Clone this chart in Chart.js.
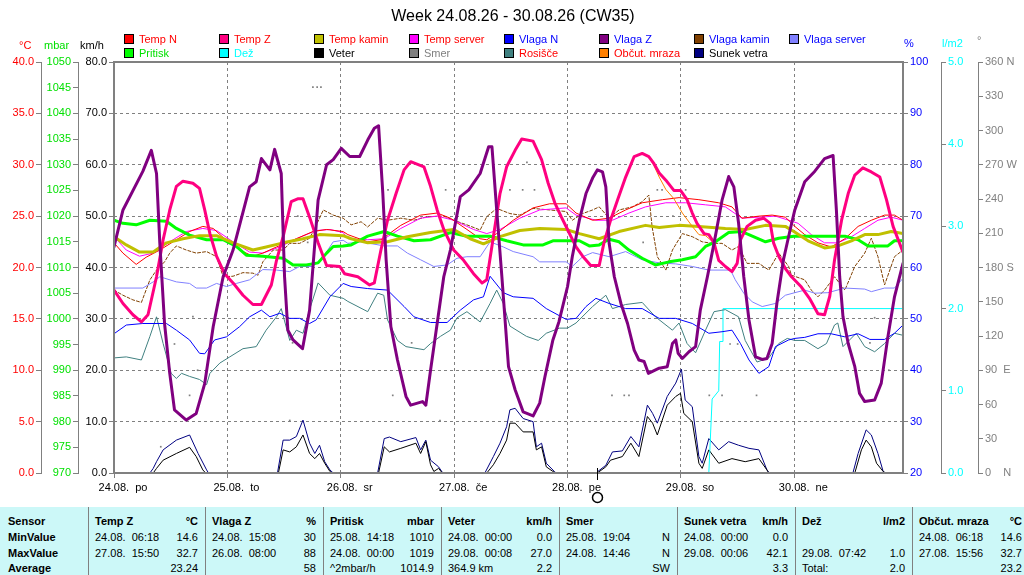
<!DOCTYPE html>
<html>
<head>
<meta charset="utf-8">
<script src="https://cdn.jsdelivr.net/npm/chart.js@4.4.1/dist/chart.umd.min.js"></script>
<style>
  html,body{margin:0;padding:0;background:#fff;}
  body{width:1024px;height:575px;position:relative;overflow:hidden;font-family:"Liberation Sans",Arial,sans-serif;}
  #c{position:absolute;left:0;top:0;}
  #title{position:absolute;left:0;top:8px;width:1026px;text-align:center;font-size:16px;line-height:16px;color:#000;}
  .lg{position:absolute;font-size:11px;line-height:14px;white-space:pre;}
  .lg i{position:absolute;left:0;top:2px;width:8px;height:8px;border:1px solid #000;}
  .lg span{position:absolute;left:15px;top:0;}
  .unit{position:absolute;font-size:11px;line-height:14px;white-space:pre;}
  #tbl{position:absolute;left:0;top:507px;width:1024px;height:68px;background:#CCF8F8;}
  .sep{position:absolute;top:0;width:1px;height:68px;background:#808080;}
  .cell{position:absolute;font-size:11px;line-height:15px;height:15px;white-space:pre;display:flex;justify-content:space-between;}
  .b{font-weight:bold;}
</style>
</head>
<body>
<canvas id="c" width="1024" height="505" style="width:1024px;height:505px"></canvas>
<div id="title">Week 24.08.26 - 30.08.26 (CW35)</div>
<div id="legend"></div>
<div id="units"></div>
<div id="tbl"></div>
<script>
// ---------------- DATA (hour since 24.08. 00:00, value) ----------------
const dayLabels = ['24.08.  po','25.08.  to','26.08.  sr','27.08.  če','28.08.  pe','29.08.  so','30.08.  ne'];
const moonHour = 102.2;

const tempN = [[0,22.4],[1.9,21.4],[4.7,20.3],[6.8,21],[9.7,21.7],[13.2,22.7],[16,23.5],[18.8,24],[21,23.8],[23.4,22.8],[26.6,21.7],[29.4,21.1],[31.5,21.4],[34.4,22],[38.6,22.8],[42.1,23.5],[45,23.7],[48.5,23.5],[49.5,23.2],[53.7,22.5],[56.5,22.7],[60.7,24.1],[64.9,25.1],[68.4,25.3],[71.2,24.8],[74.7,23.7],[77.5,22.8],[78.9,22.7],[81,23.3],[84.5,24.6],[88.7,25.8],[92.2,26.2],[95.7,26.2],[97.8,25.3],[101.3,24.6],[104.8,24.8],[108.3,25.6],[111.8,26.3],[116.1,26.6],[119.6,26.8],[123.8,26.6],[128,26.3],[130.8,25.9],[132.9,24.8],[136.5,25],[139.3,25.1],[142.1,24.9],[144.1,24],[146.2,23.2],[149,22.4],[151.8,22],[154.7,22.8],[157.5,24],[160.3,24.6],[163.1,25.1],[165.2,25.1],[167,24.6]];

const tempZ = [[0,17.8],[1.9,16.5],[4,15.4],[5.8,14.7],[7.2,15.4],[9,19.1],[10.4,22.7],[11.8,25.6],[13.2,27.9],[14.6,28.4],[16.7,28.2],[18.1,27.7],[19.2,25.6],[20.3,23.3],[21.7,21.1],[23.4,19.4],[25.2,18.5],[27.3,17.3],[29.4,16.4],[31.2,16.4],[33.3,18.3],[34.4,20.7],[35.8,23],[37.5,26.4],[39,26.7],[40,26.7],[41.4,24.9],[43.2,22.4],[45,20.2],[47.8,20.1],[48.8,19.4],[51.6,19.1],[54.1,18.3],[55.1,18.5],[56.5,21.7],[57.9,24.6],[59.7,27.2],[61.4,29.5],[62.8,30.3],[65.6,29.8],[67,27.9],[68.4,25.6],[69.8,23.7],[71.9,21.7],[74,20.7],[76.1,19.4],[77.9,18.5],[78.9,18.8],[80.3,23],[81.7,27.2],[83.1,29.8],[84.9,31.4],[86.3,32.5],[88.7,32.3],[90.5,30.5],[91.9,28.2],[93.3,26.3],[94.7,24.9],[96.1,23.6],[97.8,22],[99.2,21.1],[100.9,20.2],[102.7,20.2],[103.7,22.4],[105.1,24.6],[106.6,26.6],[108.3,28.8],[110.1,30.8],[111.8,31.1],[113.2,30.8],[114.3,30.1],[115.4,29.2],[116.8,28.5],[118.5,27.5],[119.9,27.5],[121.3,26.6],[122.4,25.3],[123.4,24.3],[124.9,23.3],[125.9,23.2],[127,22.4],[128,20.7],[129.4,20.1],[130.8,19.6],[131.9,20.4],[132.6,22.7],[134,24],[135.8,24.6],[137.5,24.8],[138.9,24.3],[139.6,22.4],[140.7,21.1],[142.1,19.9],[143.4,19.1],[145.5,18.1],[147.2,17],[149,15.5],[150.4,15.4],[151.5,17.2],[152.5,20.7],[154,24.6],[155.4,27.2],[156.8,29],[158.5,29.7],[160.3,29.3],[162.1,28.8],[163.5,26.6],[164.9,24],[167,21.5]];

const tempKamin = [[0,23],[2.6,22.2],[5.4,21.5],[8.3,21.5],[11.1,22.4],[14.6,22.8],[18.1,23.1],[21.7,23.1],[25.2,22.4],[29.4,21.7],[32.2,22],[35.8,22.4],[40,22.8],[43.5,23.2],[48.5,23.1],[50.2,22.8],[53.7,22.4],[57.9,22.5],[62.1,23],[67,23.4],[71.9,23.7],[75.4,22.8],[78.2,22.3],[81.7,23],[85.9,23.6],[90.1,23.8],[95.7,23.7],[98.5,23.3],[102.7,22.8],[106.9,23.5],[112.5,24.1],[115.4,23.9],[119.6,24.1],[123.8,24],[129.4,23.8],[133.6,23.7],[137.9,24.1],[142.1,24],[143.9,23.5],[146.9,22.6],[150.4,21.9],[153.2,22.1],[156.1,22.6],[158.9,23.2],[161.7,23.2],[164.5,23.5],[167,23.3]];

const tempServer = [[0,23],[2.6,21.7],[5.4,21.1],[8.3,21.4],[11.8,22.5],[15.3,23.5],[18.8,23.8],[21.7,23.6],[25.2,22.5],[28.7,21.5],[31.5,21.4],[35.1,22],[38.6,22.8],[42.8,23.6],[45.7,23.7],[48.5,23.4],[49.5,22.8],[53.7,22.7],[57.2,22.8],[60.7,23.8],[64.9,24.8],[68.4,25],[71.9,24.6],[76.1,23.7],[78.9,23.3],[81.7,23.7],[85.9,24.8],[90.1,25.6],[95.7,25.8],[97.8,25.1],[102,24.6],[105.5,24.6],[109,25.3],[112.5,25.9],[116.8,26.3],[121,26.3],[125.2,26.1],[129.4,25.9],[132.9,24.8],[136.5,24.9],[140,25],[143.5,24.5],[144.8,24.3],[147.6,23.2],[150.4,22.4],[153.2,22.4],[156.1,23],[158.9,23.8],[161.7,24.6],[164.5,24.9],[167,24.6]];

const vlagaN = [[0,47.1],[2.6,48.8],[6.1,49.1],[11.1,49.1],[13.2,47.8],[16,45.9],[18.1,43.3],[19.2,43.2],[21.3,45.9],[23.8,46.5],[26.6,48.5],[28.7,50.4],[31.2,51.7],[33,50.4],[35.1,51.1],[37.2,50.1],[39.3,50.1],[41.4,49.1],[42.8,49.8],[45.7,54.3],[48.5,56.9],[50.2,56.3],[53.7,55.9],[57.9,55.6],[61.4,52.4],[63.5,50.4],[67,49.3],[70.5,49.3],[73.3,51.7],[76.1,53.7],[78.2,54.3],[79.6,58.3],[82.4,55.1],[84.5,54.3],[88.7,54],[91.5,52],[95.7,49.9],[97.8,50.1],[99.9,52.4],[102,54],[104.8,53],[108.3,52],[111.8,52],[115.4,50.1],[118.9,50.1],[122.4,49.1],[125.9,47.2],[128.7,47.5],[130.8,47.8],[132.6,45.2],[134.4,42],[136.5,39.4],[138.6,40.7],[140,44.6],[142.8,45.9],[144.1,46.2],[146.2,46.4],[149,47.1],[151.8,47.1],[154.7,46.5],[157.5,47.1],[160,46],[163.1,46],[165.2,47.2],[167,48.8]];

const vlagaZ = [[0,64],[1.9,71.2],[6.1,78.7],[7.9,82.8],[9,78.3],[9.7,64.7],[10.7,49.1],[11.8,39.4],[12.8,32.3],[15.3,30.3],[17.4,31.6],[19.2,37.4],[21,48.5],[23.1,58.2],[25.2,63.4],[28.7,75.7],[30.1,76.7],[31.2,81.2],[33,79],[34,83],[35.4,78.3],[36.1,58.2],[36.8,47.8],[37.9,45.9],[39.9,44.2],[41.4,51.7],[42.5,64.7],[43.2,73.1],[45,80],[46.4,81],[48.1,83.2],[49.9,81.6],[52,81.6],[53.7,84.8],[55.1,87.1],[56,87.6],[56.9,74.4],[57.6,61.5],[58.6,48.5],[60,42],[61.8,34.9],[62.8,33.2],[65.3,33.9],[66,33.2],[67,40],[68.4,49.1],[69.8,58.2],[71.2,63.4],[73.3,73.8],[75.1,75.1],[77.5,78.3],[79.3,83.5],[80,83.5],[81,71.2],[82.1,58.2],[83.5,40.7],[84.9,36.2],[86.6,31.9],[88.7,31.1],[90.1,33.6],[91.2,38.7],[92.9,45.9],[94.2,49.5],[96,56.3],[97,62.1],[98.5,69.2],[99.9,74.4],[101.3,77.4],[102.3,79],[103.4,78.6],[104.1,75.7],[104.8,64.7],[105.9,58.2],[107.3,53],[108.7,49.1],[110.1,43.9],[111.1,42],[112.2,41.7],[113.1,39.4],[115.4,40.4],[117.1,40.7],[118.2,45.2],[118.9,45.9],[119.4,43.3],[120.3,42.3],[121.7,43.6],[123.1,44.6],[124.1,51.7],[125.6,58.2],[127,64.7],[128.7,73.1],[130.1,77.7],[131.2,75.7],[132.2,68.6],[133.3,58.2],[134.4,49.8],[135.8,42.6],[137.2,42.1],[138.2,42.3],[139.3,45.2],[140.3,53],[141.7,61.5],[143.1,67.3],[144.1,71.2],[146.2,76.7],[148.3,78.7],[150.4,81.2],[152.2,81.8],[152.9,71.2],[153.6,58.2],[154.3,50.4],[155.4,45.2],[156.8,40.7],[157.8,35.5],[158.9,33.9],[161,34.2],[162.4,37.5],[163.8,46.5],[165.2,54.3],[167,60.8]];

const vlagaKamin = [[0,55.6],[1.9,54.6],[4,53.7],[5.8,53.2],[7.6,57.6],[9,59.5],[10.7,61.1],[11.8,62.8],[13.2,64.2],[15.3,63.4],[17.4,62.8],[19.6,63.1],[21.7,62.1],[23.1,58.2],[25.2,58.3],[27.3,59],[29.4,58.9],[30.5,58.5],[31.5,61.1],[33.7,63.4],[35.8,63.4],[37.2,64.7],[39.3,64.7],[41.4,65.7],[42.5,67.6],[44.3,71.2],[46.4,70.2],[48.5,69.6],[50.2,68.3],[52.3,68.9],[53.7,67.9],[55.8,69.6],[57.9,69.2],[60.7,69.6],[63.5,69.2],[66.3,69.9],[69.8,70],[71.9,69.2],[74.7,68.3],[77.5,67.3],[78.9,69.9],[81,71.5],[83.8,70.5],[85.9,70.2],[88.7,71.5],[92.2,71.2],[95.7,70.9],[97,69.2],[99.2,70.5],[101.3,71.2],[102.7,71.8],[104.8,69.6],[106.9,71.2],[109.7,71.8],[111.8,72.8],[113.2,74.1],[113.9,67.9],[115,62.1],[116.8,59.5],[118.2,63.4],[120.3,66.6],[122.4,66],[124.5,65],[126.6,64.7],[128.7,64.7],[130.8,63.4],[132.2,64.1],[134,60.8],[136.5,60.8],[138.6,59.5],[140.7,62.8],[142.8,60.2],[143.4,58.5],[146.2,57.6],[147.6,55.6],[149,54.3],[150.4,55.6],[152.5,58.2],[154.7,55.6],[156.8,60.2],[158.9,62.8],[160.3,65.7],[161.7,62.1],[163.1,56.6],[165.2,62.1],[167,63.4]];

const vlagaServer = [[0,56],[6.1,56],[8.3,57.2],[9.7,58.2],[13.2,57.2],[16,56.9],[17.4,56],[19.6,56],[21.7,56.9],[23.8,56.3],[25.9,56.9],[28.7,57.6],[31.5,59.6],[34.4,59.5],[37.2,59.2],[39.3,60.2],[42.1,60.2],[44.3,62.1],[46.4,65],[48.5,65.3],[49.5,64.7],[52.3,65],[57.2,64.2],[60,64.2],[62.1,62.8],[64.9,61.5],[67.7,60.2],[70.5,60.5],[72.6,61.8],[74.7,62.1],[77.5,62.1],[79.6,65],[82.4,64],[84.5,63.1],[88.7,62.1],[90.1,61.1],[95.7,61.1],[97,60.2],[99.2,62.1],[101.3,62.9],[104.8,62.1],[108.3,63.1],[111.8,61.5],[115.4,60.9],[118.9,60.7],[122.4,60.2],[125.9,59.5],[130.5,59.5],[131.5,57.6],[133.3,55],[135.1,53.3],[137.2,52.4],[140,53],[142.1,54.6],[144.1,55.1],[146.2,55.6],[148.3,55],[151.1,55.1],[154.7,56],[158.9,55.8],[160.3,55.3],[163.1,56],[165.2,56],[167,57.9]];

const pritisk = [[0,1019.2],[1.9,1018.6],[4.7,1018.3],[7.6,1019.2],[11.1,1019],[13.2,1017.6],[16,1016.3],[19.6,1015.4],[23.1,1015.4],[25.9,1014.1],[28,1012.4],[31.5,1012.2],[35.8,1011.8],[37.9,1010.5],[40.7,1010.5],[43.2,1010.9],[45,1012.8],[46.4,1014.1],[48.5,1014.2],[50.2,1014.4],[53.7,1016.1],[57.2,1017],[60,1016.1],[63.5,1015.2],[67,1015.4],[71.2,1016.8],[74.7,1016.1],[79.6,1016.1],[83.1,1015.2],[86.6,1014.4],[90.8,1014.4],[92.9,1015.2],[98.5,1015.2],[100.6,1014.2],[102.7,1014.4],[104.8,1015.5],[106.9,1015],[109,1013.4],[111.8,1011.8],[114.6,1010.5],[117.5,1011.1],[120.3,1011.5],[123.1,1012.1],[125.2,1014.1],[127.3,1015],[130.1,1016.8],[132.9,1017],[135.1,1016.1],[137.9,1015],[140.7,1015.7],[143.9,1016.1],[154.7,1016.1],[157.5,1015.4],[159.6,1014.2],[163.8,1014.2],[165.2,1015.2],[167,1015.2]];

const dez = [[0,0],[125.9,0],[126.6,0.9],[128,1.0],[128.2,1.6],[128.7,1.6],[128.9,2.0],[167,2.0]];

const veter = [[0,0],[8.3,0],[9,0.9],[10.4,2.5],[13.2,3.8],[16,5],[17.4,3.2],[18.8,0.6],[19.4,0],[34.8,0],[35.8,4.5],[37.2,4.1],[38.6,5.1],[40,7.4],[41.4,3.8],[42.5,2.8],[43.5,3.8],[44.6,1.9],[45.7,0.3],[46.2,0],[56,0],[57.2,5.1],[58.3,4.1],[60.7,4.8],[63.9,5.8],[64.9,3.8],[66,6.1],[67,1.6],[67.7,0.3],[68.7,0.9],[69.5,0],[78.9,0],[80.3,1.6],[81.7,3.8],[83.1,6.4],[83.8,9.7],[84.9,9.7],[86.6,8],[88.7,8],[89.4,4.5],[90.5,5.1],[91.5,1.2],[92.9,0.3],[93.5,0],[102.3,0],[104.1,1.2],[105.1,2.5],[107.6,3.2],[109.4,5.8],[111.1,3.2],[112.9,11],[114,9.7],[115,7.4],[117.1,13.2],[118.9,14.9],[119.9,15.5],[120.6,11.6],[122.4,10],[123.8,1.9],[124.5,0.9],[125.9,4.5],[128,1.9],[130.8,2.8],[133.6,2.2],[136.5,2.8],[138.2,0.6],[138.6,0],[156.8,0],[158.2,4.5],[159.2,6.4],[160.3,5.1],[161.4,1.9],[162.8,0.3],[163.3,0],[167,0]];

const sunek = [[0,0],[7.6,0],[8.3,0.9],[9,2.2],[10.4,4.5],[13.2,6.4],[16,7.4],[17.8,3.8],[19.6,0.6],[20,0],[34.6,0],[35.8,6.4],[37.2,6.4],[38.6,7.1],[40,10.3],[41.4,5.8],[42.5,3.8],[43.5,5.4],[44.6,2.2],[45.7,0.6],[46.4,0],[55.8,0],[57.2,6.7],[58.3,7],[60.7,6.1],[63.9,6.9],[64.9,4.5],[66,6.4],[67,2.5],[68.7,1.2],[69.6,0],[78.5,0],[80.3,3.2],[81.7,5.8],[83.1,9],[83.8,12.3],[84.9,12.6],[86.6,10.6],[88.7,10],[89.4,5.1],[90.5,5.8],[91.5,1.9],[93.2,0.3],[93.6,0],[102,0],[104.1,1.5],[105.5,4.1],[107.6,4.3],[109.4,7.1],[111.1,5.1],[112.9,13.2],[114,11.6],[115,9.7],[117.1,14.9],[118.9,17.5],[120.1,20.2],[120.9,14.2],[122.4,12.9],[123.8,3.2],[124.5,1.9],[125.9,6.7],[128,4.5],[130.1,6.1],[132.2,5.4],[134.4,4.8],[136.5,4.5],[138.2,0.6],[138.7,0],[156.4,0],[157.5,3.8],[159.2,8.4],[160.3,7.4],[161.7,3.8],[162.8,0.3],[163.3,0],[167,0]];

const smer = [[9.9,23],[12.8,113],[16,68],[16.7,137],[17.7,90],[37.2,46],[37.8,114],[38.9,225],[41,202],[42.1,338],[43,338],[43.8,338],[58,248],[59,68],[63,114],[65.2,180],[69,46],[70.2,248],[83.8,248],[86.5,248],[89,248],[87.4,272],[91.5,201],[105.4,68],[108,68],[109,68],[112,202],[115,248],[116,248],[118.3,225],[121,248],[126,68],[128.7,68],[130.4,113],[132,113],[136,68],[160,114],[161,136],[164,90]];

const rosisce = [[0,11.2],[2.6,11.3],[5.8,11],[7.6,13.3],[9,15.2],[10.4,12.6],[12.1,9.7],[13.2,9.2],[14.3,9.7],[16,9.4],[18.1,9.1],[19.6,8.6],[20.3,9.7],[22.4,10.7],[24.5,11.3],[27.3,12.1],[30.1,12.3],[32.2,13.9],[34.4,15.2],[35.4,16],[37.2,12.9],[38.6,13.9],[40,13.6],[41.4,15.9],[43.2,18.5],[45.7,17.3],[48.5,17],[49.5,16.7],[53.7,15.7],[55.8,17.5],[57.1,17.3],[57.9,14.9],[60,12.9],[61.8,12.3],[65.6,12],[67,12.6],[69.1,13.3],[71.2,13.9],[72.6,15.1],[74.7,15.7],[77.5,14.7],[79.6,16.5],[81,17.8],[82.4,16.5],[83.8,14.3],[87.3,13.3],[89.8,12.9],[91.5,13.6],[94.3,14.1],[96,14.1],[97.8,14.6],[101.3,16.2],[104.1,17.3],[105.5,16],[108.3,16.4],[111.8,16.6],[114.6,15.2],[118.2,13.9],[119.6,14.6],[121.3,12.6],[123.1,11.7],[125.2,13.9],[127,15.7],[129.4,15.9],[132.2,15.2],[133.6,12.9],[136.1,10.8],[138.6,11.2],[140.7,12.6],[142.5,13.1],[144.1,12.9],[146.2,12.9],[149,12.1],[150.8,12.6],[152.5,14.4],[153.2,14.6],[154.3,12.3],[157.1,13.6],[158.9,12.3],[161,11.8],[163.1,12.6],[165.2,13.6],[167,13.4]];

const obcutMraza = [[0,17.8],[1.9,16.5],[4,15.4],[5.8,14.7],[7.2,15.4],[9,19.1],[10.4,22.7],[11.8,25.6],[13.2,27.9],[14.6,28.4],[16.7,28.2],[18.1,27.7],[19.2,25.6],[20.3,23.3],[21.7,21.1],[23.4,19.4],[25.2,18.5],[27.3,17.3],[29.4,16.4],[31.2,16.4],[33.3,18.3],[34.4,20.7],[35.8,23],[37.5,26.4],[39,26.7],[40,26.7],[41.4,24.9],[43.2,22.4],[45,20.2],[47.8,20.1],[48.8,19.4],[51.6,19.1],[54.1,18.3],[55.1,18.5],[56.5,21.7],[57.9,24.6],[59.7,27.2],[61.4,29.5],[62.8,30.3],[65.6,29.8],[67,27.9],[68.4,25.6],[69.8,23.7],[71.9,21.7],[74,20.7],[76.1,19.4],[77.9,18.5],[78.9,18.8],[80.3,23],[81.7,27.2],[83.1,29.8],[84.9,31.4],[86.3,32.5],[88.7,32.3],[90.5,30.5],[91.9,28.2],[93.3,26.3],[94.7,24.9],[96.1,23.6],[97.8,22],[99.2,21.1],[100.9,20.2],[102.7,20.2],[103.7,22.4],[105.1,24.6],[106.6,26.6],[108.3,28.8],[110.1,30.8],[111.8,31.1],[113.2,30.8],[114.3,29.9],[115.4,28.8],[116.8,27.6],[118.5,26.7],[120.3,25.3],[122.4,24],[123.8,23.2],[125.2,23.1],[127,22.4],[128,20.7],[129.4,20.1],[130.8,19.6],[131.9,20.4],[132.6,22.7],[134,24],[135.8,24.6],[137.5,24.8],[138.9,24.3],[139.6,22.4],[140.7,21.1],[142.1,19.9],[143.4,19.1],[145.5,18.1],[147.2,17],[149,15.5],[150.4,15.4],[151.5,17.2],[152.5,20.7],[154,24.6],[155.4,27.2],[156.8,29],[158.5,29.7],[160.3,29.3],[162.1,28.8],[163.5,26.6],[164.9,24],[167,21.5]];

// Statistics table
const tblSensors = ['Temp Z','Vlaga Z','Pritisk','Veter','Smer','Sunek vetra','Dež','Občut. mraza'];
const tblUnits   = ['°C','%','mbar','km/h','','km/h','l/m2','°C'];
const tblMin = [['24.08.  06:18','14.6'],['24.08.  15:08','30'],['25.08.  14:18','1010'],['24.08.  00:00','0.0'],['25.08.  19:04','N'],['24.08.  00:00','0.0'],['',''],['24.08.  06:18','14.6']];
const tblMax = [['27.08.  15:50','32.7'],['26.08.  08:00','88'],['24.08.  00:00','1019'],['29.08.  00:08','27.0'],['24.08.  14:46','N'],['29.08.  00:06','42.1'],['29.08.  07:42','1.0'],['27.08.  15:56','32.7']];
const tblAvg = [['','23.24'],['','58'],['^2mbar/h','1014.9'],['364.9 km','2.2'],['','SW'],['','3.3'],['Total:','2.0'],['','23.2']];
const rowLabels = ['Sensor','MinValue','MaxValue','Average'];

// ---------------- SERIES DEFINITIONS ----------------
const series = [
  {label:'Temp N',       data:tempN,       color:'#FF0000', text:'#FF0000', axis:'yT', w:1, order:6},
  {label:'Temp Z',       data:tempZ,       color:'#FF0080', text:'#FF0000', axis:'yT', w:3, order:2},
  {label:'Temp kamin',   data:tempKamin,   color:'#C0C000', text:'#FF0000', axis:'yT', w:3, order:4},
  {label:'Temp server',  data:tempServer,  color:'#FF00FF', text:'#FF0000', axis:'yT', w:1, order:7},
  {label:'Vlaga N',      data:vlagaN,      color:'#0000FF', text:'#0000FF', axis:'yH', w:1, order:8},
  {label:'Vlaga Z',      data:vlagaZ,      color:'#800080', text:'#0000FF', axis:'yH', w:3, order:1},
  {label:'Vlaga kamin',  data:vlagaKamin,  color:'#804000', text:'#0000FF', axis:'yH', w:1, order:10, dash:[3,2]},
  {label:'Vlaga server', data:vlagaServer, color:'#8080FF', text:'#0000FF', axis:'yH', w:1, order:9},
  {label:'Pritisk',      data:pritisk,     color:'#00FF00', text:'#00E000', axis:'yP', w:3, order:5},
  {label:'Dež',          data:dez,         color:'#00FFFF', text:'#00FFFF', axis:'yR', w:1, order:12},
  {label:'Veter',        data:veter,       color:'#000000', text:'#000000', axis:'yW', w:1, order:13},
  {label:'Smer',         data:smer,        color:'#808080', text:'#808080', axis:'yD', w:0, order:15, dots:true},
  {label:'Rosišče',      data:rosisce,     color:'#408080', text:'#FF0000', axis:'yT', w:1, order:11},
  {label:'Občut. mraza', data:obcutMraza,  color:'#FF8000', text:'#FF0000', axis:'yT', w:1, order:3},
  {label:'Sunek vetra',  data:sunek,       color:'#000080', text:'#000000', axis:'yW', w:1, order:14}
];

const datasets = series.map(s => ({
  label: s.label,
  data: s.data.map(p => ({x:p[0], y:p[1]})),
  borderColor: s.color,
  backgroundColor: s.color,
  borderWidth: s.w,
  borderDash: s.dash || [],
  borderJoinStyle: 'round',
  borderCapStyle: 'round',
  showLine: !s.dots,
  pointRadius: s.dots ? 1.2 : 0,
  pointStyle: 'rect',
  pointBorderWidth: 0,
  pointBackgroundColor: s.color,
  tension: 0,
  fill: false,
  yAxisID: s.axis,
  order: s.order
}));

// ---------------- LEGEND / UNITS (HTML) ----------------
const legendEl = document.getElementById('legend');
series.forEach((s, i) => {
  const row = i < 8 ? 0 : 1;
  const col = i < 8 ? i : i - 8;
  const d = document.createElement('div');
  d.className = 'lg';
  d.style.left = (124 + 95 * col) + 'px';
  d.style.top = (32 + 14 * row) + 'px';
  d.innerHTML = '<i style="background:' + s.color + '"></i><span style="color:' + s.text + '">' + s.label + '</span>';
  legendEl.appendChild(d);
});
const units = [
  {t:'°C',   c:'#FF0000', x:19,  y:38},
  {t:'mbar', c:'#00E000', x:44,  y:38},
  {t:'km/h', c:'#000000', x:80,  y:38},
  {t:'%',    c:'#0000FF', x:904, y:36},
  {t:'l/m2', c:'#00FFFF', x:942, y:36},
  {t:'°',    c:'#808080', x:977, y:33}
];
const unitsEl = document.getElementById('units');
units.forEach(u => {
  const d = document.createElement('div');
  d.className = 'unit';
  d.style.left = u.x + 'px'; d.style.top = u.y + 'px'; d.style.color = u.c;
  d.textContent = u.t;
  unitsEl.appendChild(d);
});

// ---------------- TABLE (HTML) ----------------
const tbl = document.getElementById('tbl');
const seps = [88,205,323,441,559,677,795,912];
const rowTops = [7,23,39,54];
seps.forEach(x => { const s = document.createElement('div'); s.className='sep'; s.style.left = x+'px'; tbl.appendChild(s); });
function addCell(left, width, top, l, r, bold) {
  const d = document.createElement('div');
  d.className = 'cell' + (bold ? ' b' : '');
  d.style.left = left + 'px'; d.style.width = width + 'px'; d.style.top = top + 'px';
  const a = document.createElement('span'); a.textContent = l;
  const b = document.createElement('span'); b.textContent = r;
  d.appendChild(a); d.appendChild(b);
  tbl.appendChild(d);
}
rowLabels.forEach((lab, r) => addCell(8, 78, rowTops[r], lab, '', true));
tblSensors.forEach((name, i) => {
  const left = seps[i] + 7;
  const right = (i + 1 < seps.length ? seps[i + 1] : 1029) - 7;
  const w = right - left;
  addCell(left, w, rowTops[0], name, tblUnits[i], true);
  addCell(left, w, rowTops[1], tblMin[i][0], tblMin[i][1], false);
  addCell(left, w, rowTops[2], tblMax[i][0], tblMax[i][1], false);
  addCell(left, w, rowTops[3], tblAvg[i][0], tblAvg[i][1], false);
});

// ---------------- CHART ----------------
Chart.defaults.font.family = '"Liberation Sans", Arial, sans-serif';
Chart.defaults.font.size = 11;

function yAxis(pos, weight, width, min, max, step, color, fmt, onArea) {
  return {
    type: 'linear', position: pos, weight: weight, min: min, max: max,
    ticks: {stepSize: step, color: color, padding: 2, autoSkip: false, callback: fmt},
    grid: {drawOnChartArea: !!onArea, color: '#808080', tickColor: '#808080', tickLength: 5, lineWidth: 1},
    border: {display: !onArea, color: '#808080', width: 1, dash: onArea ? [3,3] : []},
    afterFit: s => { s.width = width; s.paddingTop = 0; s.paddingBottom = 0; }
  };
}
const dirLetters = {0:'    N', 90:'  E', 180:' S', 270:' W', 360:' N'};

const framePlugin = {
  id: 'frame',
  afterDatasetsDraw(chart) {
    const {ctx, chartArea: a} = chart;
    ctx.save();
    ctx.strokeStyle = '#808080';
    ctx.lineWidth = 2;
    ctx.strokeRect(a.left, a.top, a.right - a.left, a.bottom - a.top);
    const x = Math.round(chart.scales.x.getPixelForValue(moonHour)) + 0.5;
    ctx.strokeStyle = '#000';
    ctx.lineWidth = 1;
    ctx.beginPath(); ctx.moveTo(x, a.bottom - 5); ctx.lineTo(x, a.bottom + 7); ctx.stroke();
    ctx.lineWidth = 1.5;
    ctx.beginPath(); ctx.arc(x, a.bottom + 24.5, 5, 0, Math.PI * 2); ctx.stroke();
    ctx.restore();
  }
};

new Chart(document.getElementById('c'), {
  type: 'line',
  data: {datasets: datasets},
  options: {
    responsive: false,
    animation: false,
    layout: {padding: {top: 62, left: 0, right: 0, bottom: 0}},
    plugins: {legend: {display: false}, tooltip: {enabled: false}, title: {display: false}},
    scales: {
      x: {
        type: 'linear', position: 'bottom', min: 0, max: 167,
        ticks: {stepSize: 24, includeBounds: false, autoSkip: false, maxRotation: 0, color: '#000', padding: 3, labelOffset: 9,
                callback: v => dayLabels[Math.round(v / 24)]},
        grid: {color: '#808080', tickColor: '#808080', tickLength: 5, lineWidth: 1},
        border: {display: false, dash: [3,3]},
        afterFit: s => { s.height = 32; s.paddingLeft = 0; s.paddingRight = 0; }
      },
      yT: yAxis('left', 3, 41, 0, 40, 5, '#FF0000', v => v.toFixed(1)),
      yP: yAxis('left', 2, 37, 970, 1050, 5, '#00E000', v => String(v)),
      yW: yAxis('left', 1, 36, 0, 80, 10, '#000000', v => v.toFixed(1), true),
      yH: yAxis('right', 1, 38, 20, 100, 10, '#0000FF', v => String(v)),
      yR: yAxis('right', 2, 37, 0, 5, 1, '#00FFFF', v => v.toFixed(1)),
      yD: yAxis('right', 3, 46, 0, 360, 30, '#808080', v => String(v) + (dirLetters[v] || ''))
    }
  },
  plugins: [framePlugin]
});
</script>
</body>
</html>
